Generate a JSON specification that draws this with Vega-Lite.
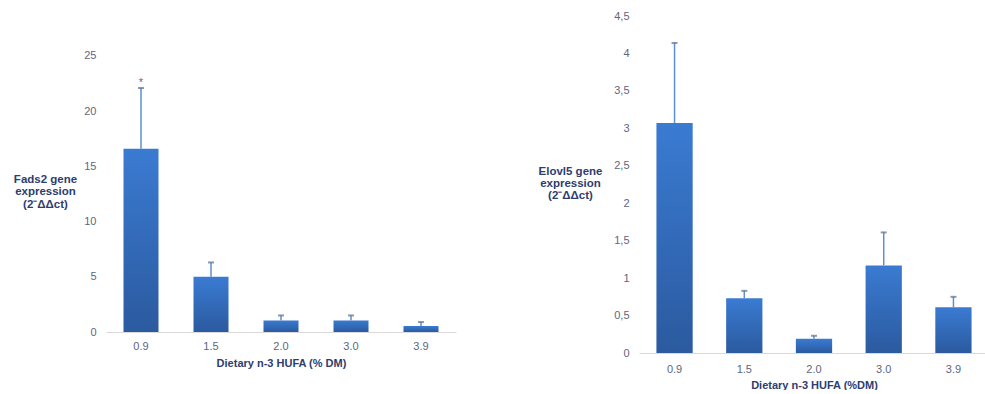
{
  "$schema": "https://vega.github.io/schema/vega-lite/v6.json",
  "padding": {"left": 13, "top": 10, "right": 0, "bottom": 0},
  "background": "white",
  "config": {
    "view": {"stroke": null},
    "font": "Liberation Sans",
    "axis": {"labelFont": "Liberation Sans", "titleFont": "Liberation Sans", "labelColor": "#5d6680", "titleColor": "#2e3d6e", "labelFontSize": 11, "titleFontSize": 11.5, "titleFontWeight": "bold", "grid": false, "ticks": false, "labelOverlap": false}
  },
  "hconcat": [
    {
      "width": 350,
      "height": 316,
      "data": {"values": [
        {"diet": "0.9", "val": 16.6, "err": 22.1, "sig": "*"},
        {"diet": "1.5", "val": 5.0, "err": 6.3, "sig": ""},
        {"diet": "2.0", "val": 1.05, "err": 1.5, "sig": ""},
        {"diet": "3.0", "val": 1.05, "err": 1.5, "sig": ""},
        {"diet": "3.9", "val": 0.55, "err": 0.9, "sig": ""}
      ]},
      "encoding": {
        "x": {"field": "diet", "type": "ordinal", "sort": null, "scale": {"paddingInner": 0.5, "paddingOuter": 0.25},
          "axis": {"title": "Dietary n-3 HUFA (% DM)", "labelAngle": 0, "labelPadding": 8, "titlePadding": 6, "domainColor": "#d9d9d9", "titleFontSize": 11}}
      },
      "layer": [
        {
          "mark": {"type": "bar", "color": {"gradient": "linear", "x1": 0, "y1": 0, "x2": 0, "y2": 1, "stops": [{"offset": 0, "color": "#3a7bd2"}, {"offset": 1, "color": "#2b5a9f"}]}},
          "encoding": {
            "y": {"field": "val", "type": "quantitative", "scale": {"domain": [0, 28.62], "nice": false},
              "axis": {"values": [0, 5, 10, 15, 20, 25], "domain": false, "labelPadding": 10, "title": ["Fads2 gene", "expression", "(2⁻ΔΔct)"], "titleAngle": 0, "titleAlign": "center", "titleBaseline": "top", "titleX": -61, "titleY": 157, "titleLineHeight": 12.5}}
          }
        },
        {
          "mark": {"type": "rule", "color": "#5b8fd3", "strokeWidth": 1.5},
          "encoding": {"y": {"field": "val", "type": "quantitative"}, "y2": {"field": "err"}}
        },
        {
          "mark": {"type": "tick", "color": "#5a6d8a", "size": 6, "thickness": 2},
          "encoding": {"y": {"field": "err", "type": "quantitative"}}
        },
        {
          "mark": {"type": "text", "color": "#5a6d8a", "baseline": "bottom", "dy": 0, "fontSize": 11},
          "encoding": {"y": {"field": "err", "type": "quantitative"}, "text": {"field": "sig"}}
        }
      ]
    },
    {
      "width": 350,
      "height": 337,
      "data": {"values": [
        {"diet": "0.9", "val": 3.07, "err": 4.14},
        {"diet": "1.5", "val": 0.73, "err": 0.83},
        {"diet": "2.0", "val": 0.19, "err": 0.23},
        {"diet": "3.0", "val": 1.17, "err": 1.61},
        {"diet": "3.9", "val": 0.61, "err": 0.75}
      ]},
      "encoding": {
        "x": {"field": "diet", "type": "ordinal", "sort": null, "scale": {"paddingInner": 0.48, "paddingOuter": 0.25},
          "axis": {"title": "Dietary n-3 HUFA (%DM)", "labelAngle": 0, "labelPadding": 10, "titlePadding": 5, "domainColor": "#d9d9d9", "titleFontSize": 11}}
      },
      "layer": [
        {
          "mark": {"type": "bar", "color": {"gradient": "linear", "x1": 0, "y1": 0, "x2": 0, "y2": 1, "stops": [{"offset": 0, "color": "#3a7bd2"}, {"offset": 1, "color": "#2b5a9f"}]}},
          "encoding": {
            "y": {"field": "val", "type": "quantitative", "scale": {"domain": [0, 4.5], "nice": false},
              "axis": {"values": [0, 0.5, 1, 1.5, 2, 2.5, 3, 3.5, 4, 4.5], "format": "~g", "labelExpr": "replace(datum.label, '.', ',')", "labelOverlap": false, "tickCount": 10, "domain": false, "labelPadding": 10, "title": ["Elovl5 gene", "expression", "(2⁻ΔΔct)"], "titleAngle": 0, "titleAlign": "center", "titleBaseline": "top", "titleX": -69, "titleY": 149, "titleLineHeight": 12}}
          }
        },
        {
          "mark": {"type": "rule", "color": "#5b8fd3", "strokeWidth": 1.5},
          "encoding": {"y": {"field": "val", "type": "quantitative"}, "y2": {"field": "err"}}
        },
        {
          "mark": {"type": "tick", "color": "#5a6d8a", "size": 6, "thickness": 2},
          "encoding": {"y": {"field": "err", "type": "quantitative"}}
        }
      ]
    }
  ],
  "spacing": 82
}
